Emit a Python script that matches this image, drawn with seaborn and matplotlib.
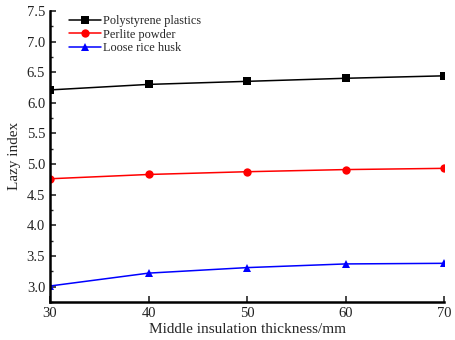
import pandas as pd
import seaborn as sns
import matplotlib.pyplot as plt
from matplotlib.ticker import MultipleLocator

thickness = [30, 40, 50, 60, 70]
polystyrene = [6.21, 6.30, 6.35, 6.40, 6.44]
perlite = [4.76, 4.83, 4.875, 4.91, 4.93]
rice_husk = [3.01, 3.22, 3.31, 3.37, 3.38]
series_names = ["Polystyrene plastics", "Perlite powder", "Loose rice husk"]

df = pd.DataFrame({
    "thickness": thickness * 3,
    "value": polystyrene + perlite + rice_husk,
    "material": [n for n in series_names for _ in thickness],
})

sns.set_style("ticks")
plt.rcParams["font.family"] = ["Liberation Serif", "DejaVu Serif"]

fig = plt.figure(figsize=(4.55, 3.4), dpi=100)
ax = fig.add_axes([0.11, 0.112, 0.866, 0.856])

sns.lineplot(
    data=df, x="thickness", y="value", hue="material", style="material",
    palette=["black", "red", "blue"],
    markers=["s", "o", "^"], dashes=False,
    markersize=6, markeredgewidth=0, linewidth=1.1, ax=ax,
)

ax.set_xlim(30, 70)
ax.set_ylim(2.75, 7.5)
ax.xaxis.set_major_locator(MultipleLocator(10))
ax.yaxis.set_major_locator(MultipleLocator(0.5))
ax.yaxis.set_minor_locator(MultipleLocator(0.25))
ax.set_yticklabels([f"{v:.1f}" for v in ax.get_yticks()])
ax.tick_params(direction="in", length=4, width=1.2, labelsize=10.5)
ax.tick_params(axis="y", which="minor", direction="in", length=2.5, width=1)
for s in ["top", "right"]:
    ax.spines[s].set_visible(False)
for s in ["left", "bottom"]:
    ax.spines[s].set_linewidth(1.8)
    ax.spines[s].set_color("black")
for lab in ax.get_xticklabels() + ax.get_yticklabels():
    lab.set_color("#222222")

ax.set_xlabel("Middle insulation thickness/mm", fontsize=11, labelpad=2)
ax.set_ylabel("Lazy index", fontsize=11, labelpad=4)

leg = ax.legend(loc="upper left", bbox_to_anchor=(0.03, 1.01), frameon=False,
                fontsize=8.8, handlelength=2.6, handletextpad=0.2,
                labelspacing=0.12, borderaxespad=0.2)

fig.savefig("out.png", dpi=100)
